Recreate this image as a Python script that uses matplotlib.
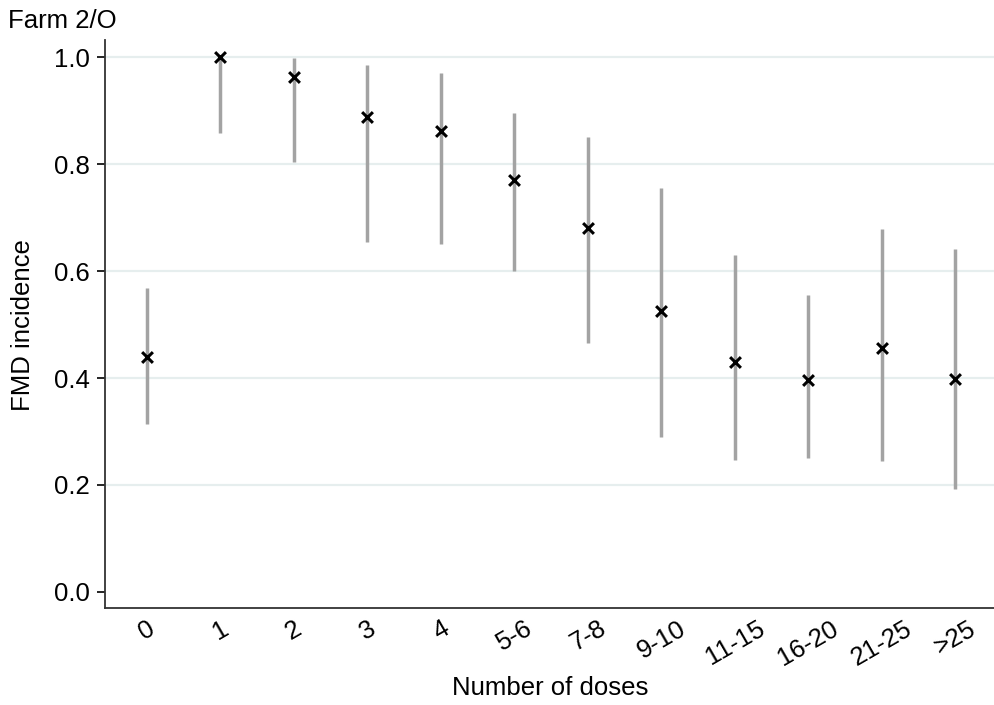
import matplotlib.pyplot as plt
import numpy as np

plt.rcParams['font.family'] = ['Liberation Sans', 'DejaVu Sans']

# dose groups and estimated incidence with confidence interval
dose_groups = ['0', '1', '2', '3', '4', '5-6', '7-8', '9-10', '11-15', '16-20', '21-25', '>25']
incidence = [0.439, 1.0, 0.963, 0.888, 0.862, 0.770, 0.680, 0.525, 0.430, 0.396, 0.456, 0.398]
ci_low = [0.314, 0.858, 0.804, 0.654, 0.650, 0.600, 0.465, 0.290, 0.247, 0.250, 0.245, 0.193]
ci_high = [0.568, 1.0, 0.998, 0.985, 0.970, 0.895, 0.850, 0.755, 0.630, 0.555, 0.679, 0.641]

fs = 18.5

fig = plt.figure(figsize=(9.95, 7.05), dpi=100)
ax = fig.add_axes([105 / 995, 1 - 608 / 705, 890 / 995, 568 / 705])

x = np.arange(len(dose_groups))
ax.vlines(x, ci_low, ci_high, color='#a3a3a3', linewidth=2.5, zorder=2)
ax.scatter(x, incidence, marker='x', s=60, color='black', linewidths=2.2, zorder=3)

ax.set_xlim(-0.57, 11.54)
ax.set_ylim(-0.03, 1.032)
ax.set_yticks([0.0, 0.2, 0.4, 0.6, 0.8, 1.0])
ax.set_yticklabels(['0.0', '0.2', '0.4', '0.6', '0.8', '1.0'], fontsize=fs)
ax.set_xticks(x)
ax.set_xticklabels(dose_groups, rotation=30, fontsize=fs, ha='center')
ax.tick_params(axis='x', length=0, pad=6)
ax.tick_params(axis='y', length=6, width=1.2, pad=5)

for yv in [0.2, 0.4, 0.6, 0.8, 1.0]:
    ax.axhline(yv, color='#e6eeee', linewidth=1.6, zorder=1)

for side in ['top', 'right']:
    ax.spines[side].set_visible(False)
for side in ['left', 'bottom']:
    ax.spines[side].set_linewidth(1.3)
    ax.spines[side].set_color('#333333')

ax.set_ylabel('FMD incidence', fontsize=fs)
ax.set_xlabel('Number of doses', fontsize=fs)
ax.yaxis.set_label_coords(-0.092, 0.498)
ax.xaxis.set_label_coords(0.5, -0.141)
ax.xaxis.label.set_va('center')
ax.yaxis.label.set_va('center')
fig.text(8 / 995, 1 - 21 / 705, 'Farm 2/O', fontsize=fs, va='center', ha='left')

fig.savefig('out.png', dpi=100)
